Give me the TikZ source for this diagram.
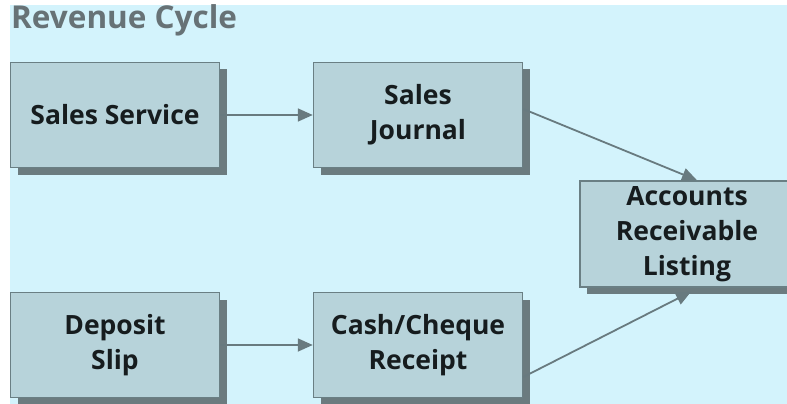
\documentclass[tikz,border=0pt]{standalone}
\usepackage{fontspec}
\setmainfont{Open Sans}
\usepackage{xcolor}
\usetikzlibrary{arrows.meta,shadows}

\definecolor{bgcyan}{HTML}{D3F3FC}
\definecolor{boxfill}{HTML}{B7D3DA}
\definecolor{boxline}{HTML}{6A7F84}
\definecolor{shadowgray}{HTML}{6B7B7F}
\definecolor{arrowgray}{HTML}{687A7F}
\definecolor{textdark}{HTML}{161C1E}
\definecolor{titlegray}{HTML}{677276}

\tikzset{
    box/.style={draw=boxline, line width=1.5pt, fill=boxfill, rectangle,
        minimum width=209pt, minimum height=105pt, align=center,
        text=textdark, font=\fontsize{26.5}{35}\selectfont\bfseries,
        general shadow={fill=shadowgray, shadow xshift=7pt, shadow yshift=-7pt}},
    flow/.style={draw=arrowgray, line width=1.8pt, -{Triangle[length=15pt,width=13pt]}}
}

\begin{document}
\begin{tikzpicture}[x=1pt, y=-1pt, node distance=303pt]
            % Background
            \useasboundingbox (0,0) rectangle (787,404);
            \fill [bgcyan] (10,5) rectangle (787,404);
            \node [anchor=base west, inner sep=0pt, text=titlegray, font=\fontsize{31.5}{36}\selectfont\bfseries] (title) at (11,29) {Revenue Cycle};

            % Nodes
            \node [box] (service) at (115,115) {Sales Service};
            \node [box, right of=service] (journal) {Sales\\Journal};
            \node [box, below of=service, node distance=230pt] (deposit) {Deposit\\Slip};
            \node [box, right of=deposit] (receipt) {Cash/Cheque\\Receipt};
            \node [box, minimum width=214pt, minimum height=106pt] (ar) at (687,234) {Accounts\\Receivable\\Listing};

            % Arrows
            \draw [flow] (service) -- (journal);
            \draw [flow] (deposit) -- (receipt);
            \draw [flow] ([yshift=6pt]journal.east) -- ([xshift=10pt]ar.north);
            \draw [flow] ([yshift=-32pt]receipt.east) -- ([xshift=4pt,yshift=-4pt]ar.south);

\end{tikzpicture}
\end{document}
